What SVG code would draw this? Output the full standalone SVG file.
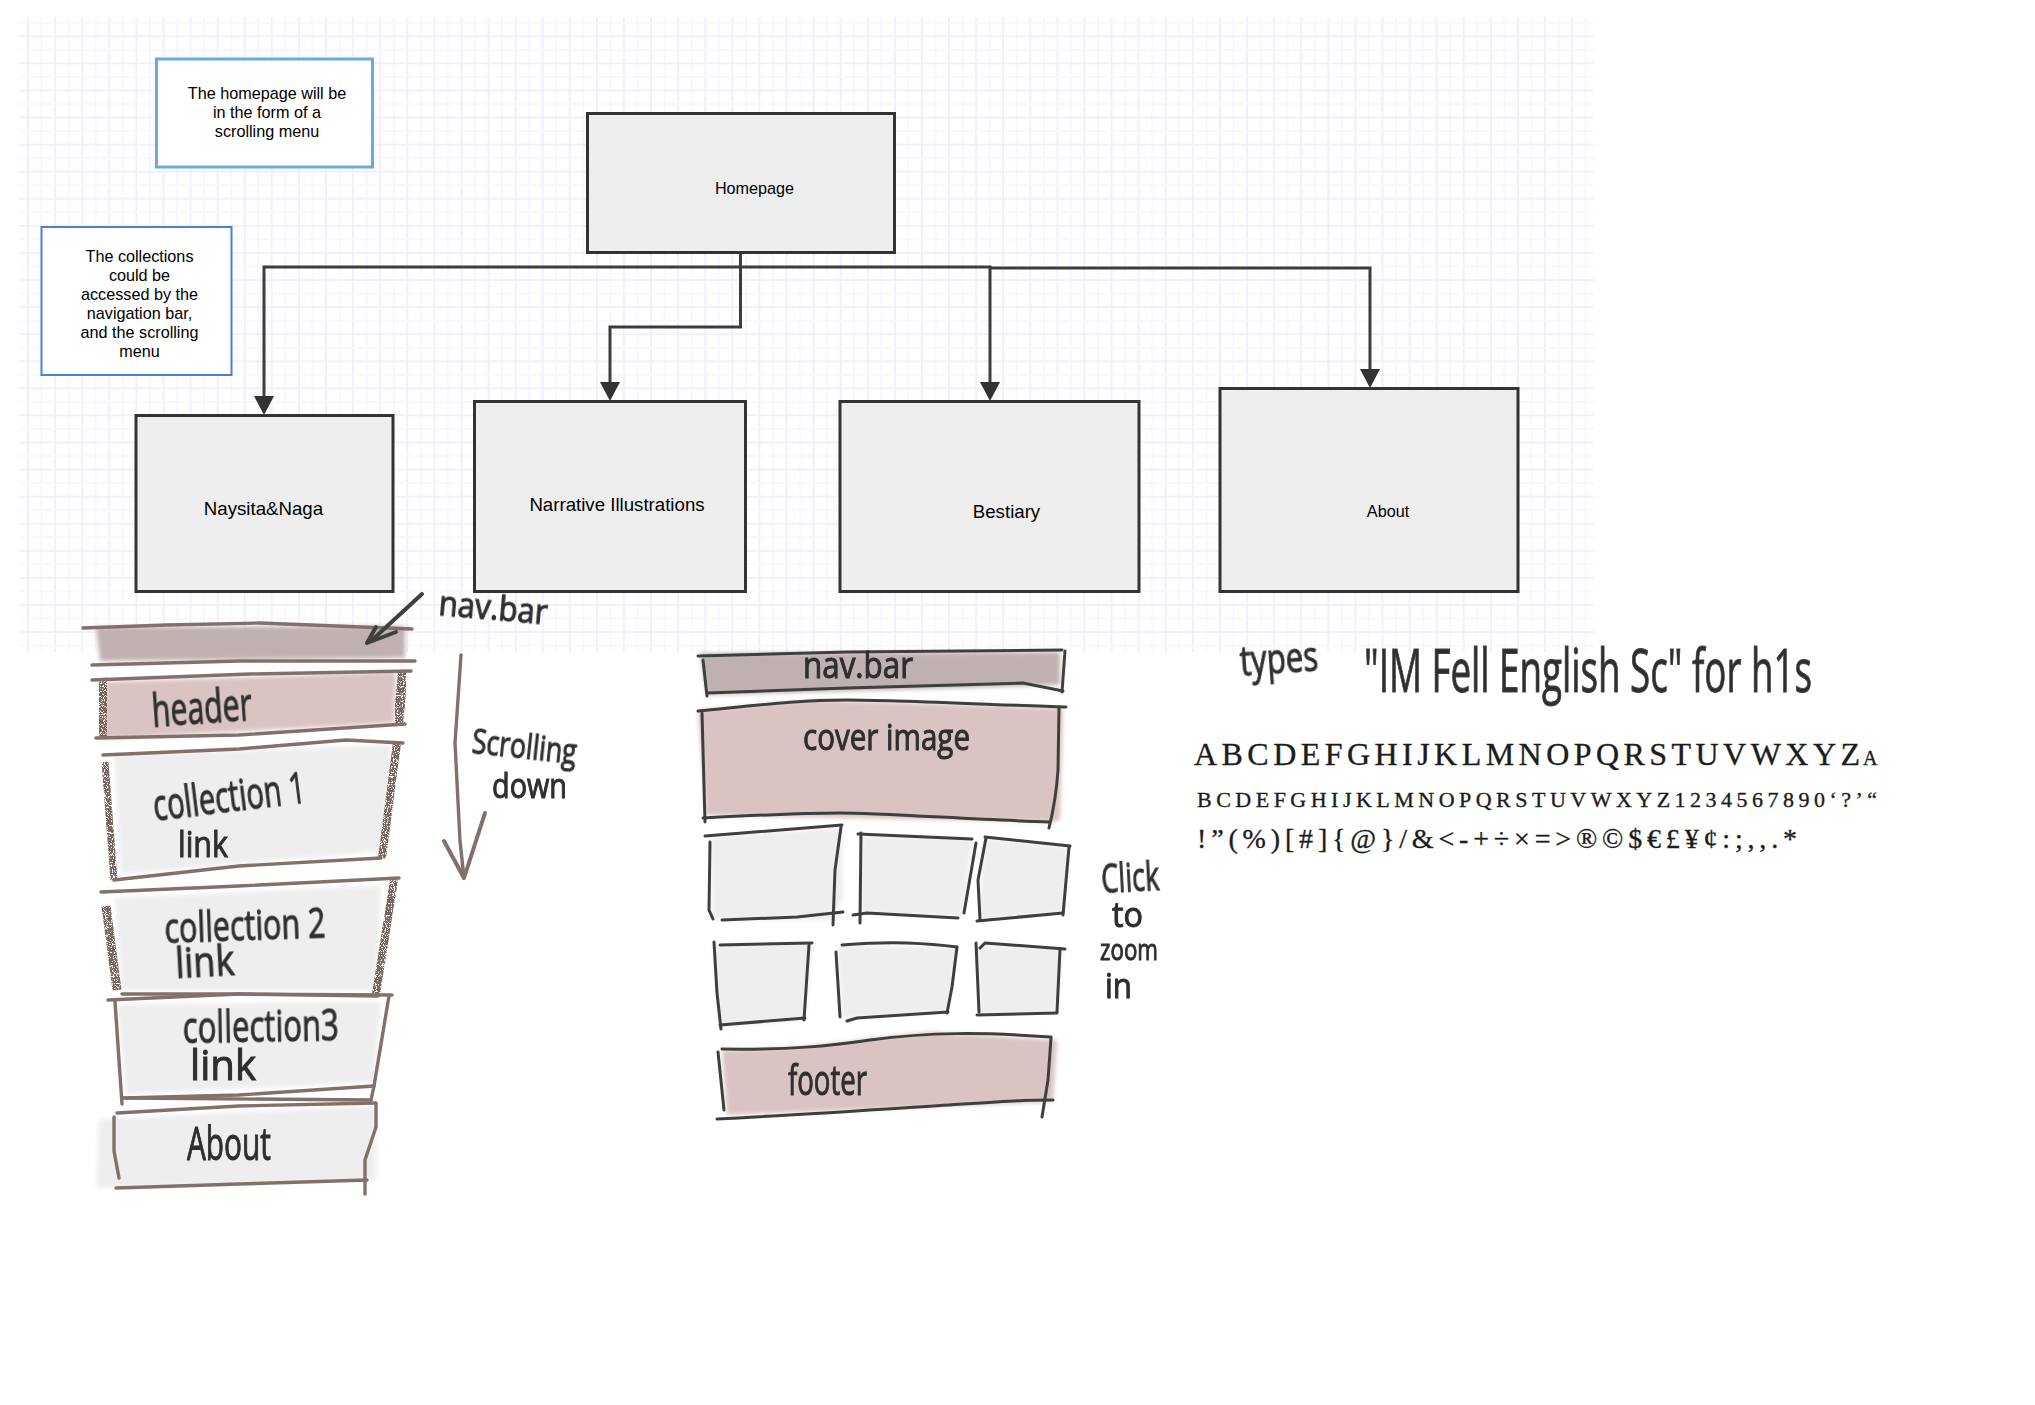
<svg xmlns="http://www.w3.org/2000/svg" width="2035" height="1405" viewBox="0 0 2035 1405">
<style>
text{font-family:"Liberation Sans",Arial,sans-serif}
.box{fill:#eeeeee;stroke:#333333;stroke-width:3}
.lab{fill:#000;text-anchor:middle;font-size:16.2px}
.lab2{fill:#000;text-anchor:middle;font-size:18.67px}
.conn{fill:none;stroke:#3d3d3d;stroke-width:3;marker-end:url(#ah)}
.b{fill:none;stroke:#84706b;stroke-width:3.4;stroke-linecap:round;stroke-linejoin:round}
.st{fill:none;stroke:#7a655f;stroke-linecap:butt;filter:url(#stip)}
.k{fill:none;stroke:#3f3f3f;stroke-width:3;stroke-linecap:round;stroke-linejoin:round}
.nav{fill:#c0b1b1;filter:url(#soft)}
.pk{fill:#d9c3c3;filter:url(#soft)}
.gy{fill:#eeeeee;filter:url(#soft)}
.hand{font-family:"Open Sans","Liberation Sans",sans-serif;fill:#2e2e2e;stroke:#2e2e2e;stroke-width:1;filter:url(#ink)}
.spec{font-family:"Liberation Serif",serif;fill:#1c1c1c;stroke:#1c1c1c;stroke-width:.35}
</style>
<defs>
<pattern id="gr" patternUnits="userSpaceOnUse" x="28" y="36.3" width="27.09" height="27.08">
<rect x="-1" y="0" width="2" height="27.08" fill="#f0eeff"/>
<rect x="26.09" y="0" width="2" height="27.08" fill="#f0eeff"/>
<rect x="12.5" y="0" width="2" height="27.08" fill="#f8f7ff"/>
<rect x="0" y="-1" width="27.09" height="2" fill="#f1efff"/>
<rect x="0" y="26.08" width="27.09" height="2" fill="#f1efff"/>
<rect x="0" y="12.5" width="27.09" height="2" fill="#f8f7ff"/>
</pattern>
<marker id="ah" markerUnits="userSpaceOnUse" markerWidth="22" markerHeight="22" viewBox="0 0 22 22" refX="9" refY="11" orient="auto"><path d="M0 1L19 11L0 21z" fill="#333"/></marker>
<filter id="soft" x="-10%" y="-20%" width="120%" height="140%"><feGaussianBlur stdDeviation="2.2"/></filter>
<filter id="ink" x="-10%" y="-30%" width="120%" height="160%"><feGaussianBlur stdDeviation=".55"/></filter>
<filter id="stip" x="-50%" y="-10%" width="200%" height="120%" color-interpolation-filters="sRGB">
<feTurbulence type="fractalNoise" baseFrequency="1.1" numOctaves="1" seed="4" result="n"/>
<feColorMatrix in="n" type="matrix" values="0 0 0 0 0 0 0 0 0 0 0 0 0 0 0 0 0 0 16 -6.4" result="m"/>
<feComposite in="SourceGraphic" in2="m" operator="in"/>
</filter>
</defs>
<rect id="grid" x="19" y="17" width="1575" height="635" fill="url(#gr)"/>

<g id="connectors">
<path class="conn" d="M740.500 252V267H264V405"/>
<path class="conn" d="M740.500 252V327H610V391"/>
<path class="conn" d="M740.500 267H990V391"/>
<path class="conn" d="M990 268H1370V378"/>
</g>

<g id="note-homepage"><rect x="156.500" y="59" width="216" height="108" fill="#fff" stroke="#6fa8dc" stroke-width="3"/>
<text class="lab" x="267" y="99">The homepage will be</text><text class="lab" x="267" y="118">in the form of a</text><text class="lab" x="267" y="137">scrolling menu</text></g>
<g id="note-collections"><rect x="41.500" y="227" width="190" height="148" fill="#fff" stroke="#4a80d8" stroke-width="2"/>
<text class="lab" x="139.500" y="262">The collections</text><text class="lab" x="139.500" y="281">could be</text><text class="lab" x="139.500" y="300">accessed by the</text><text class="lab" x="139.500" y="319">navigation bar,</text><text class="lab" x="139.500" y="338">and the scrolling</text><text class="lab" x="139.500" y="357">menu</text></g>
<g id="homepage"><rect class="box" x="587.500" y="113.500" width="307" height="139"/><text class="lab" x="754.500" y="194">Homepage</text></g>
<g id="naysita"><rect class="box" x="136" y="415.500" width="257" height="176"/><text class="lab2" x="263.500" y="515">Naysita&amp;Naga</text></g>
<g id="narrative"><rect class="box" x="474.500" y="401.500" width="271" height="190"/><text class="lab2" x="617" y="510.500">Narrative Illustrations</text></g>
<g id="bestiary"><rect class="box" x="840" y="401.500" width="299" height="190"/><text class="lab2" x="1006.500" y="517.500">Bestiary</text></g>
<g id="about"><rect class="box" x="1220" y="388.500" width="298" height="203"/><text class="lab" x="1388" y="516.500">About</text></g>

<g id="sketch-scrolling">
<polygon class="gy" points="114,755 392,745 381,851 121,874"/>
<polygon class="gy" points="115,898 381,886 376,990 122,990"/>
<polygon class="gy" points="117,1004 381,1002 374,1082 126,1094"/>
<polygon class="gy" points="99,1119 376,1106 376,1180 96,1188"/>
<polygon class="nav" points="96,627 405,626 405,658 100,661"/>
<polygon class="pk" points="106,682 396,672 394,723 103,739"/>
<path class="st" stroke-width="9" d="M96 629V664"/><path class="st" stroke-width="10" d="M407 631V660"/>
<path class="st" stroke-width="13" d="M101 678L105 737"/><path class="st" stroke-width="10" d="M403 672L398 725"/>
<path class="st" stroke-width="7" d="M105 762L114 880"/><path class="st" stroke-width="8" d="M397 743L382 858"/>
<path class="st" stroke-width="9" d="M106 906L117 990"/><path class="st" stroke-width="8" d="M394 880L376 994"/>
<polyline class="b" points="83,628 167,625 260,623 412,629"/><polyline class="b" points="92,665 239,661 415,661"/>
<polyline class="b" points="92,680 250,674 411,671"/><polyline class="b" points="96,738 239,735 405,724"/>
<polyline class="b" points="103,755 239,749 346,740 403,743"/><polyline class="b" points="114,880 239,866 381,858"/>
<polyline class="b" points="101,892 239,886 399,878"/><polyline class="b" points="122,994 239,994 378,996"/>
<polyline class="b" points="108,1000 239,994 392,995"/><polyline class="b" points="115,1002 122,1104"/><polyline class="b" points="389,996 374,1086 371,1100"/>
<polyline class="b" points="124,1098 239,1095 374,1086"/><polyline class="b" points="122,1098 371,1100"/>
<polyline class="b" points="117,1113 239,1106 376,1103"/><polyline class="b" points="114,1117 114,1151 119,1178"/>
<polyline class="b" points="376,1104 376,1127 365,1160 365,1194"/><polyline class="b" points="116,1188 239,1184 367,1180"/>
<polyline class="k" style="stroke-width:4" points="422,594 371,641"/><polyline class="k" style="stroke-width:4" points="396,632 367,643 376,627"/>
<polyline class="b" points="461,655 455,743 460,841 464,878"/><polyline class="b" style="stroke-width:4" points="444,841 464,878 485,813"/>
<text class="hand" font-size="34" textLength="109" lengthAdjust="spacingAndGlyphs" transform="translate(438,615) rotate(5)">nav.bar</text>
<text class="hand" font-size="34" textLength="105" lengthAdjust="spacingAndGlyphs" transform="translate(471,753) rotate(6)">Scrolling</text>
<text class="hand" font-size="34" textLength="75" lengthAdjust="spacingAndGlyphs" x="492" y="798">down</text>
<text class="hand" font-size="46" textLength="100" lengthAdjust="spacingAndGlyphs" transform="translate(153,727) rotate(-4)">header</text>
<text class="hand" font-size="44" textLength="153" lengthAdjust="spacingAndGlyphs" transform="translate(155,821) rotate(-7)">collection 1</text>
<text class="hand" font-size="36" textLength="50" lengthAdjust="spacingAndGlyphs" x="178" y="857">link</text>
<text class="hand" font-size="42" textLength="161" lengthAdjust="spacingAndGlyphs" transform="translate(165,943) rotate(-2)">collection 2</text>
<text class="hand" font-size="42" textLength="59" lengthAdjust="spacingAndGlyphs" transform="translate(176,978) rotate(-3)">link</text>
<text class="hand" font-size="44" textLength="156" lengthAdjust="spacingAndGlyphs" transform="translate(183,1043) rotate(-1)">collection3</text>
<text class="hand" font-size="42" textLength="66" lengthAdjust="spacingAndGlyphs" x="190" y="1080">link</text>
<text class="hand" font-size="46" textLength="84" lengthAdjust="spacingAndGlyphs" x="187" y="1160">About</text>
</g>

<g id="sketch-gallery">
<polygon class="nav" points="700,653 1060,652 1060,685 707,695"/>
<polygon class="pk" points="698,710 813,700 1063,708 1060,820 1053,822 706,815"/>
<polygon class="gy" points="710,837 842,827 843,897 833,920 713,920"/>
<polygon class="gy" points="862,835 973,838 963,917 860,913"/>
<polygon class="gy" points="985,838 1070,847 1063,913 978,920"/>
<polygon class="gy" points="713,945 812,943 805,1020 720,1027"/>
<polygon class="gy" points="837,945 957,947 947,1013 842,1018"/>
<polygon class="gy" points="977,945 1063,948 1057,1013 980,1015"/>
<path class="pk" d="M722 1050C800 1050 850 1040 930 1032L1057 1040L1053 1102L727 1115Z"/>
<polyline class="k" points="698,656 847,652 1062,650"/><polyline class="k" points="703,660 707,696"/><polyline class="k" points="707,693 847,688 1023,683 1063,691"/><polyline class="k" points="1065,651 1062,692"/>
<path class="k" d="M698 711C760 705 800 700 847 700S1000 705 1066 707"/><polyline class="k" points="702,713 705,822"/><path class="k" d="M703 818C760 815 800 813 840 813S980 820 1050 822"/><path class="k" d="M1059 708L1058 770Q1056 800 1049 828"/>
<polyline class="k" points="705,836 842,825"/><polyline class="k" points="710,842 709,910 713,919"/><polyline class="k" points="722,920 797,917 843,912"/><polyline class="k" points="841,827 835,870 833,925"/>
<polyline class="k" points="858,834 972,839"/><polyline class="k" points="861,833 860,923"/><polyline class="k" points="853,915 867,913 958,918"/><polyline class="k" points="976,843 964,913"/>
<polyline class="k" points="985,837 1070,846"/><polyline class="k" points="986,838 978,880 980,920"/><polyline class="k" points="977,921 1063,913"/><polyline class="k" points="1069,847 1063,915"/>
<polyline class="k" points="720,945 812,943"/><polyline class="k" points="714,942 717,993 721,1029"/><polyline class="k" points="720,1025 805,1018"/><polyline class="k" points="809,945 804,1020"/>
<path class="k" d="M842 945Q880 942 907 943T957 947"/><polyline class="k" points="836,952 840,1017"/><polyline class="k" points="847,1021 857,1018 948,1012"/><polyline class="k" points="957,947 952,987 947,1013"/>
<polyline class="k" points="980,948 985,943 1065,949"/><polyline class="k" points="976,943 979,1012"/><polyline class="k" points="977,1015 1057,1013"/><polyline class="k" points="1060,949 1057,1012"/>
<path class="k" d="M722 1049C790 1050 830 1046 870 1040C930 1032 980 1032 1051 1037"/><polyline class="k" points="718,1052 724,1110"/><path class="k" d="M717 1119C800 1115 900 1108 963 1104S1030 1100 1053 1100"/><polyline class="k" points="1051,1038 1048,1080 1042,1117"/>
<text class="hand" font-size="36" textLength="110" lengthAdjust="spacingAndGlyphs" x="803" y="678">nav.bar</text>
<text class="hand" font-size="36" textLength="167" lengthAdjust="spacingAndGlyphs" x="803" y="750">cover image</text>
<text class="hand" font-size="42" textLength="79" lengthAdjust="spacingAndGlyphs" x="788" y="1095">footer</text>
<text class="hand" font-size="40" textLength="58" lengthAdjust="spacingAndGlyphs" transform="translate(1102,893) rotate(-3)">Click</text>
<text class="hand" font-size="34" textLength="31" lengthAdjust="spacingAndGlyphs" x="1112" y="927">to</text>
<text class="hand" font-size="30" textLength="58" lengthAdjust="spacingAndGlyphs" x="1100" y="960">zoom</text>
<text class="hand" font-size="34" textLength="27" lengthAdjust="spacingAndGlyphs" x="1105" y="998">in</text>
</g>

<g id="type-notes">
<text class="hand" font-size="42" textLength="78" lengthAdjust="spacingAndGlyphs" transform="translate(1241,676) rotate(-4)">types</text>
<text class="hand" font-size="60" style="stroke:#444" x="1364" y="692" textLength="448" lengthAdjust="spacingAndGlyphs">"IM Fell English Sc" for h1s</text>
<text class="spec" font-size="32" x="1194" y="765" textLength="666" lengthAdjust="spacing">ABCDEFGHIJKLMNOPQRSTUVWXYZ</text>
<text class="spec" font-size="20" x="1863" y="765">A</text>
<text class="spec" font-size="22" x="1197" y="807" textLength="680" lengthAdjust="spacing">BCDEFGHIJKLMNOPQRSTUVWXYZ1234567890‘?’“</text>
<text class="spec" font-size="28" x="1197" y="848" textLength="600" lengthAdjust="spacing">!”(%)[#]{@}/&amp;&lt;-+÷×=&gt;®©$€£¥¢:;,,.*</text>
</g>
</svg>
